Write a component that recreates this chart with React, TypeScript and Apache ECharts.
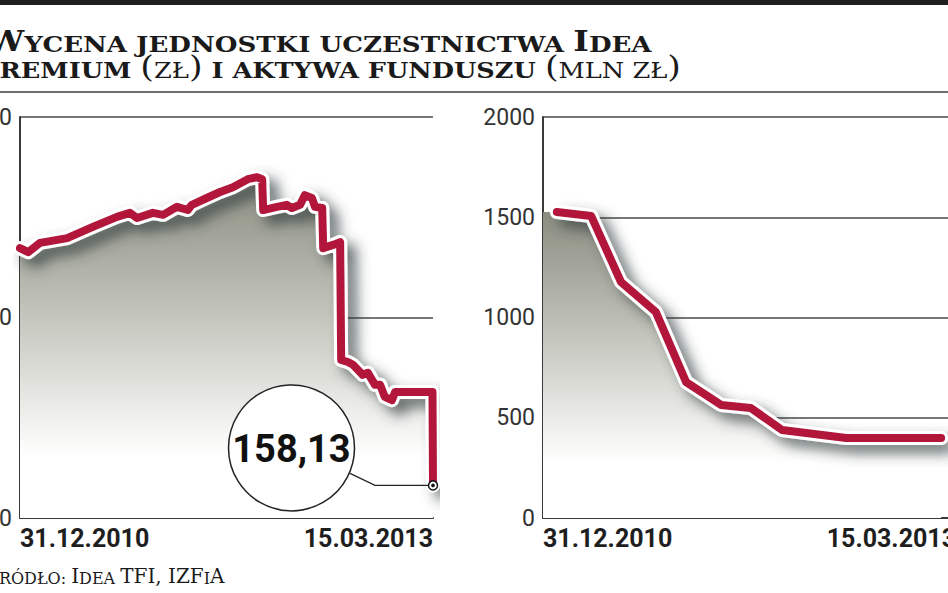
import React, { useEffect, useRef } from 'react';
import * as echarts from 'echarts';

// ---------- data ----------
const AXIS_START = '2010-12-31';
const AXIS_END = '2013-03-15';
const xTickLabels = ['31.12.2010', '15.03.2013'];

// Wycena jednostki uczestnictwa (zł)
const unitDates = [
  '2010-12-31', '2011-01-16', '2011-02-08', '2011-04-02', '2011-05-22', '2011-07-08',
  '2011-08-02', '2011-08-16', '2011-09-16', '2011-10-06', '2011-11-02', '2011-11-23',
  '2011-12-01', '2011-12-30', '2012-01-25', '2012-02-19', '2012-03-19', '2012-04-06',
  '2012-04-16', '2012-04-18', '2012-05-15', '2012-06-03', '2012-06-13', '2012-06-29',
  '2012-07-08', '2012-07-22', '2012-07-28', '2012-08-11', '2012-08-13', '2012-09-01',
  '2012-09-15', '2012-09-17', '2012-09-30', '2012-10-10', '2012-10-29', '2012-11-08',
  '2012-11-22', '2012-12-02', '2012-12-11', '2012-12-25', '2012-12-31', '2013-03-14',
  '2013-03-15',
];
const unitValues = [
  217.3, 216.3, 218.6, 219.8, 222.6, 225.1,
  226.1, 224.8, 226.1, 225.6, 227.6, 226.8,
  228.1, 229.8, 231.3, 232.5, 234.5, 235.0,
  234.5, 226.8, 227.6, 228.1, 227.3, 228.1,
  230.5, 229.8, 227.6, 227.3, 217.3, 218.1,
  218.8, 189.4, 188.9, 188.2, 185.7, 186.2,
  183.2, 183.2, 180.2, 179.4, 181.4, 181.4,
  158.13,
];
const unitAxis = { min: 150, max: 250, interval: 50 };
const lastValueLabel = '158,13';

// Aktywa funduszu (mln zł)
const assetDates = [
  '2011-01-27', '2011-04-04', '2011-06-01', '2011-08-08', '2011-10-06',
  '2011-12-13', '2012-02-09', '2012-04-10', '2012-08-13', '2013-02-14',
];
const assetValues = [1526, 1506, 1177, 1027, 678, 564, 549, 439, 399, 399];
const assetAxis = { min: 0, max: 2000, interval: 500 };

const titleLine1 = '{b|W}{s|YCENA JEDNOSTKI UCZESTNICTWA }{b|I}{s|DEA}';
const titleLine2 = '{b|P}{s|REMIUM }{p|(}{l|ZŁ}{p|)}{s| I AKTYWA FUNDUSZU }{p|(}{l|MLN ZŁ}{p|)}';
const sourceText = '{b|Ź}{s|RÓDŁO: }{b|I}{s|DEA }{b|TFI, IZF}{s|I}{b|A}';

// ---------- helpers ----------
const day = (d: string) => Math.round((Date.parse(d) - Date.parse(AXIS_START)) / 864e5);
const AXIS_FONT = 'Roboto, "Noto Sans", sans-serif';
const SERIF = '"DejaVu Serif", "Liberation Serif", serif';
const RED = '#b2173b';
const INK = '#1a1a1a';

export default function App() {
  const ref = useRef<HTMLDivElement>(null);

  useEffect(() => {
    const chart = echarts.init(ref.current!, null, { renderer: 'svg' });
    const xMax = day(AXIS_END);
    const unitData = unitDates.map((d, i) => [day(d), unitValues[i]]);
    const assetData = assetDates.map((d, i) => [day(d), assetValues[i]]);
    const assetArea = [[0, assetValues[0]], ...assetData];

    const gradient = () =>
      new echarts.graphic.LinearGradient(0, 0, 0, 1, [
        { offset: 0, color: '#8c8e82' },
        { offset: 0.35, color: '#bcbdb3' },
        { offset: 0.68, color: '#ececE9' },
        { offset: 0.82, color: '#ffffff' },
      ]);

    const makeX = (gridIndex: number) => ({
      type: 'value',
      gridIndex,
      min: 0,
      max: xMax,
      interval: xMax,
      axisLine: { show: true, onZero: false, lineStyle: { color: '#3a3a3a', width: 2 } },
      axisTick: { show: false },
      splitLine: { show: false },
      axisLabel: {
        formatter: (v: number) => (v === 0 ? xTickLabels[0] : v === xMax ? xTickLabels[1] : ''),
        alignMinLabel: 'left',
        alignMaxLabel: 'right',
        color: '#1e1e1e',
        fontSize: 25,
        fontWeight: 'bold',
        fontFamily: AXIS_FONT,
        margin: 8,
      },
    });
    const makeY = (gridIndex: number, a: { min: number; max: number; interval: number }) => ({
      type: 'value',
      gridIndex,
      min: a.min,
      max: a.max,
      interval: a.interval,
      axisLine: { show: true, lineStyle: { color: '#3a3a3a', width: 2 } },
      axisTick: { show: false },
      splitLine: { show: true, lineStyle: { color: '#4a4a4a', width: 1.5 } },
      axisLabel: {
        formatter: (v: number) => String(v),
        color: '#333', fontSize: 23, fontFamily: AXIS_FONT, margin: 8,
      },
    });

    const lineSet = (idx: number, data: number[][], area: number[][]) => [
      {
        type: 'line', xAxisIndex: idx, yAxisIndex: idx, data: area, showSymbol: false,
        lineStyle: { width: 0, opacity: 0 }, areaStyle: { color: gradient(), opacity: 1 },
        z: 1, silent: true,
      },
      {
        type: 'line', xAxisIndex: idx, yAxisIndex: idx, data, showSymbol: false,
        lineStyle: {
          color: '#ffffff', width: 14, cap: 'round', join: 'round',
          shadowColor: 'rgba(50,60,60,0.75)', shadowBlur: 14, shadowOffsetX: 9, shadowOffsetY: 8,
        },
        z: 2, silent: true,
      },
      {
        type: 'line', xAxisIndex: idx, yAxisIndex: idx, data, showSymbol: false,
        lineStyle: { color: RED, width: 8, cap: 'round', join: 'round' },
        z: 3, silent: true,
      },
    ];

    chart.setOption({
      animation: false,
      backgroundColor: '#ffffff',
      grid: [
        { left: 20, top: 117, width: 413, height: 401, containLabel: false, outerBoundsMode: 'none' },
        { left: 543, top: 117, width: 413, height: 401, containLabel: false, outerBoundsMode: 'none' },
      ],
      xAxis: [makeX(0), makeX(1)],
      yAxis: [makeY(0, unitAxis), makeY(1, assetAxis)],
      series: [...lineSet(0, unitData, unitData), ...lineSet(1, assetData, assetArea)],
    });

    const end = chart.convertToPixel({ gridIndex: 0 }, unitData[unitData.length - 1]) as number[];
    const [ex, ey] = end;
    const cx = ex - 141.5;
    const cy = ey - 37.5;

    const titleRich = {
      b: { fontSize: 28, fontWeight: 'bold', fontFamily: SERIF, fill: INK, verticalAlign: 'bottom', lineHeight: 24 },
      s: { fontSize: 22, fontWeight: 'bold', fontFamily: SERIF, fill: INK, verticalAlign: 'bottom', lineHeight: 24 },
      p: { fontSize: 30, fontWeight: 'normal', fontFamily: SERIF, fill: INK, verticalAlign: 'bottom', lineHeight: 24 },
      l: { fontSize: 22, fontWeight: 'normal', fontFamily: SERIF, fill: INK, verticalAlign: 'bottom', lineHeight: 24 },
    };

    chart.setOption({
      graphic: [
        { type: 'rect', shape: { x: 0, y: 0, width: 948, height: 5 }, style: { fill: '#1f1f1f' }, z: 10 },
        { type: 'line', shape: { x1: 0, y1: 92, x2: 948, y2: 92 }, style: { stroke: '#6e6e6e', lineWidth: 2 }, z: 10 },
        {
          type: 'group', x: -13, y: 31, scaleX: 1.185, z: 10,
          children: [{
            type: 'text',
            style: { text: titleLine1, x: 0, y: 0, verticalAlign: 'top', fill: INK, rich: titleRich },
          }],
        },
        {
          type: 'group', x: -25, y: 58, scaleX: 1.165, z: 10,
          children: [{
            type: 'text',
            style: { text: titleLine2, x: 0, y: 0, verticalAlign: 'top', fill: INK, rich: titleRich },
          }],
        },
        {
          type: 'text', x: -15, y: 566, z: 10,
          style: {
            text: sourceText, verticalAlign: 'top', fill: INK,
            rich: {
              b: { fontSize: 20, fontFamily: SERIF, fill: INK, verticalAlign: 'bottom', lineHeight: 20 },
              s: { fontSize: 16, fontFamily: SERIF, fill: INK, verticalAlign: 'bottom', lineHeight: 20 },
            },
          },
        },
        // annotation
        {
          type: 'polyline', z: 20,
          shape: { points: [[ex - 83, ey - 12], [ex - 58, ey], [ex, ey]] },
          style: { stroke: '#222', lineWidth: 1.2, fill: 'none' },
        },
        { type: 'circle', z: 21, shape: { cx, cy, r: 63 }, style: { fill: '#ffffff', stroke: '#222', lineWidth: 1.5 } },
        {
          type: 'text', z: 22, x: cx, y: cy + 1,
          style: {
            text: lastValueLabel, align: 'center', verticalAlign: 'middle',
            fontSize: 38, fontWeight: 'bold', fontFamily: AXIS_FONT, fill: '#111',
          },
        },
        { type: 'circle', z: 22, shape: { cx: ex, cy: ey, r: 4.5 }, style: { fill: '#ffffff', stroke: '#111', lineWidth: 1.5 } },
        { type: 'circle', z: 23, shape: { cx: ex, cy: ey, r: 1.8 }, style: { fill: '#111' } },
      ],
    });

    return () => chart.dispose();
  }, []);

  return (
    <div
      ref={ref}
      style={{ position: 'absolute', left: 0, top: 0, width: 948, height: 593, background: '#fff' }}
    />
  );
}
